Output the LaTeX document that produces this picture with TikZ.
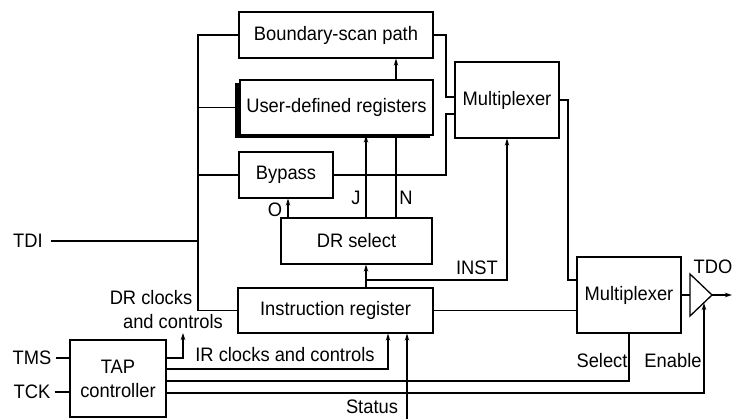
\documentclass[tikz,border=0pt]{standalone}
\usepackage{fontspec}
\setmainfont{Liberation Sans}[FakeStretch=0.94]
\usetikzlibrary{arrows.meta,calc}
\begin{document}
\begin{tikzpicture}[x=1pt,y=-1pt,line width=1.3pt,
  every node/.style={font=\fontsize{19.5}{22}\selectfont,inner sep=0pt},
  blk/.style={draw,fill=white,minimum width=#1},
  lbl/.style={},
  arr/.style={-{Stealth[length=7pt,width=4.5pt]}}]
\useasboundingbox (0,0) rectangle (734,420);
% boxes
\node[blk=194pt,minimum height=46pt] (bs) at (336,35) {Boundary-scan path};
\fill (237.5-3,80+3) rectangle (433-3,135+3);
\node[blk=193pt,minimum height=55pt] (ud) at (336.5,107.5) {User-defined registers};
\node[blk=94pt,minimum height=46pt] (byp) at (286,175) {Bypass};
\node[blk=151pt,minimum height=46pt] (drs) at (356.5,241) {DR select};
\node[blk=195pt,minimum height=45pt] (ir) at (335.5,310.5) {Instruction register};
\node[blk=104pt,minimum height=76pt] (mux1) at (507,100) {Multiplexer};
\node[blk=104pt,minimum height=76pt] (mux2) at (629,295) {Multiplexer};
\node[blk=96pt,minimum height=77pt,align=center] (tap) at (118,378.5) {TAP\\[2pt]controller};
% labels
\node[lbl] (tdi) at (28,241) {TDI};
\node[lbl] (tms) at (32,358) {TMS};
\node[lbl] (tck) at (32,392) {TCK};
\node[lbl] (lj) at (356,198) {J};
\node[lbl] (ln) at (406,198) {N};
\node[lbl] (lo) at (275,210) {O};
\node[lbl] (linst) at (477,268) {INST};
\node[lbl] (ldr1) at (151,298) {DR clocks};
\node[lbl] (ldr2) at (173,322) {and controls};
\node[lbl] (lir) at (285,355) {IR clocks and controls};
\node[lbl] (lst) at (372,407) {Status};
\node[lbl] (lsel) at (602,361) {Select};
\node[lbl] (len) at (673,361) {Enable};
\node[lbl] (ltdo) at (713,267) {TDO};
% coordinates
\coordinate (bus) at (198,0);
\coordinate (ox) at (288,0);
\coordinate (jx) at (366,0);
\coordinate (nx) at (396,0);
\coordinate (m1x) at (446,0);
\coordinate (m2x) at (568,0);
\coordinate (m1a) at (455,97);
\coordinate (m1b) at (455,114);
\coordinate (m2a) at (577,280);
\coordinate (br) at (366,280);
\coordinate (bufT) at (690,274);
\coordinate (bufB) at (690,316);
\coordinate (bufA) at (712,295);
\coordinate (tdo) at (732,295);
\coordinate (en) at (704,303);
\coordinate (tapdr) at (166,358);
\coordinate (drx) at (183,333);
\coordinate (tapir) at (166,369);
\coordinate (irx) at (388,0);
\coordinate (tapsel) at (166,381);
\coordinate (tapen) at (166,393);
\coordinate (stb) at (407,419);
% buffer
\draw[line join=miter] (bufT) -- (bufA) -- (bufB) -- cycle;
% left bus
\draw (bs.west) -- (bs.west -| bus) |- (ir.west);
\draw (ud.west) ++(-3,0) -- (ud.west -| bus);
\draw (byp.west) -- (byp.west -| bus);
\draw (tdi.east) ++(8,0) -- (tdi.east -| bus);
% inner connections
\draw[arr] (ud.north -| nx) -- (bs.south -| nx);
\draw[arr] (drs.north -| jx) -- (ud.south -| jx);
\draw (drs.north -| nx) -- (ud.south -| nx);
\draw[arr] (drs.north -| ox) -- (byp.south -| ox);
\draw (bs.east) -- (bs.east -| m1x) |- (m1a);
\draw (byp.east) -- (byp.east -| m1x) |- (m1b);
\draw (mux1.east) -- (mux1.east -| m2x) |- (m2a);
\draw (ir.east) -- (ir.east -| mux2.west);
\draw[arr] (ir.north -| jx) -- (drs.south -| jx);
\draw[arr] (br) -| (mux1.south);
\draw (mux2.east) -- (mux2.east -| bufT);
\draw[arr] (bufA) -- (tdo);
% TAP connections
\draw (tms.east) ++(4,0) -- (tms.east -| tap.west);
\draw (tck.east) ++(4,0) -- (tck.east -| tap.west);
\draw[arr] (tapdr) -| (drx);
\draw[arr] (tapir) -| (ir.south -| irx);
\draw (tapsel) -| (mux2.south);
\draw[arr] (tapen) -| (en);
\draw[arr] (stb) -- (ir.south -| stb);
\end{tikzpicture}
\end{document}
